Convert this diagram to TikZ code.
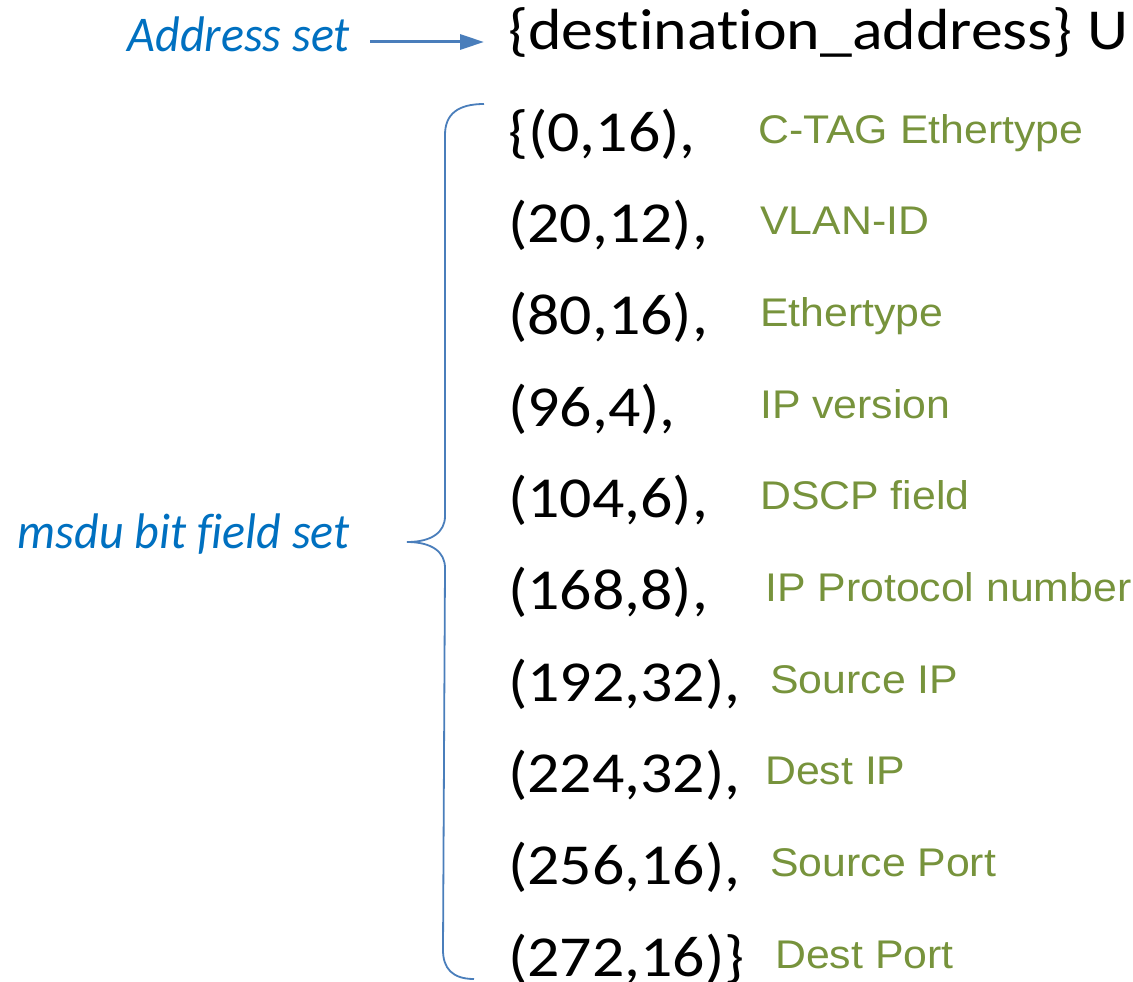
\documentclass[tikz,border=0pt]{standalone}
\usepackage{fontspec}
\usepackage{xcolor}
\usepackage{tikz}
\usetikzlibrary{arrows.meta}
\setmainfont{Carlito}[Ligatures=NoCommon]
\newfontfamily\tuplefont{Carlito}[Ligatures=NoCommon, FakeStretch=1.1]
\newfontfamily\setfont{Carlito}[Ligatures=NoCommon, FakeStretch=0.96]
\newfontfamily\labfont{Liberation Sans}[FakeStretch=1.07]
\definecolor{setblue}{HTML}{0070C0}
\definecolor{lineblue}{HTML}{4A7EBB}
\definecolor{fieldgreen}{HTML}{77933C}

\begin{document}
\begin{tikzpicture}[x=1pt,y=-1pt,
  tuple/.style={anchor=base west, inner sep=0pt, font=\tuplefont\fontsize{58}{58}\selectfont},
  field/.style={anchor=base west, inner sep=0pt, text=fieldgreen, font=\labfont\fontsize{40}{40}\selectfont},
  setname/.style={anchor=base east, inner sep=0pt, text=setblue, font=\setfont\itshape\fontsize{50}{50}\selectfont}]
\useasboundingbox (0,0) rectangle (1133,982);
%1. the two set names
\node[setname] (addr) at (350,52) {Address set};
\node[setname] (msdu) at (350,548) {msdu bit field set};
%2. the address set line
\node[tuple] (dest) at (508,50) {\{destination\_address\} U};
\coordinate (arrtail) at (370,42);
\coordinate (arrhead) at (484,42);
\draw[lineblue, line width=3pt, -{Triangle[length=24pt,width=15pt]}] (arrtail) -- (arrhead);
%3. the bit fields
\foreach \k/\pair/\lab/\gx in
	{0/{\{(0,16),}/C-TAG Ethertype/758,
	 1/{(20,12),}/VLAN-ID/760,
	 2/{(80,16),}/Ethertype/760,
	 3/{(96,4),}/IP version/760,
	 4/{(104,6),}/DSCP field/760,
	 5/{(168,8),}/IP Protocol number/765,
	 6/{(192,32),}/Source IP/770,
	 7/{(224,32),}/Dest IP/765,
	 8/{(256,16),}/Source Port/770,
	 9/{(272,16)\}}/Dest Port/775}
	{\node[tuple] (pair\k) at (508, 151+91.7*\k) {\pair};
	\node[field] (lab\k) at (\gx, 143+91.7*\k) {\lab};
	}
%4. the brace
\coordinate (btop) at (484,104);
\coordinate (btip) at (407,542);
\coordinate (bbot) at (474,979);
\draw[lineblue, line width=1.8pt] (btop) .. controls (458,104) and (445,114) .. (445,135)
	-- (445,516) .. controls (445,532) and (432,542) .. (btip)
	.. controls (432,542) and (445,552) .. (445,568)
	-- (443,950) .. controls (443,968) and (452,979) .. (bbot);
\end{tikzpicture}
\end{document}
